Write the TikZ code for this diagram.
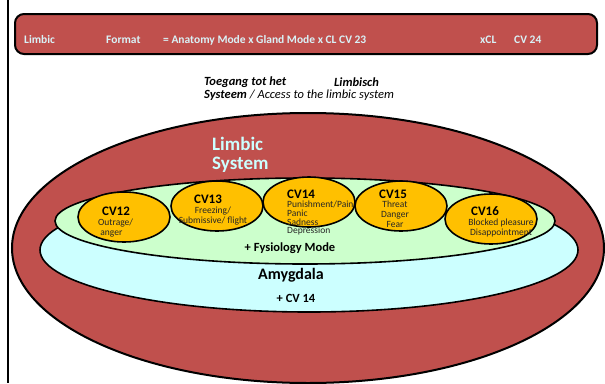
\documentclass[tikz,border=0pt]{standalone}
\usepackage{fontspec}
\setmainfont{Carlito}
\usetikzlibrary{shapes.geometric,positioning}
\definecolor{LimbRed}{HTML}{C0504D}
\definecolor{LimbGreen}{HTML}{CCFFCC}
\definecolor{LimbCyan}{HTML}{CCFFFF}
\definecolor{LimbGold}{HTML}{FFC000}
\definecolor{LimbText}{HTML}{D9F2F7}

\begin{document}
\begin{tikzpicture}[x=1pt, y=-1pt,
    cv/.style={ellipse, draw=black, line width=1.6pt, fill=LimbGold, minimum width=92pt, minimum height=50pt, inner sep=0pt},
    cvtitle/.style={font=\fontsize{13}{13}\selectfont\bfseries, inner sep=0pt},
    cvbody/.style={font=\fontsize{9.5}{10}\selectfont, inner sep=0pt, text=black!85},
    head/.style={font=\fontsize{11.5}{12}\selectfont\bfseries, text=LimbText, anchor=west, inner sep=0pt},
    sub/.style={font=\fontsize{12.5}{12}\selectfont, anchor=west, inner sep=0pt},
    zone/.style={font=\fontsize{12.5}{12}\selectfont\bfseries, inner sep=0pt}
]
    \useasboundingbox (0,0) rectangle (605,383);

    \draw[line width=1.5pt] (8,0) -- (8,383);

    % header bar
    \draw[line width=2pt, fill=LimbRed, rounded corners=9pt] (15,14) rectangle (597,54);
    \node[head] (hlimbic) at (24,40) {Limbic};
    \node[head] (hformat) at (106,40) {Format};
    \node[head] (hformula) at (163,40) {= Anatomy Mode x Gland Mode x CL CV 23};
    \node[head] (hxcl) at (480,40) {xCL};
    \node[head] (hcv) at (514,40) {CV 24};

    \node[sub] (toegang) at (204,82) {\bfseries\itshape Toegang tot het};
    \node[sub] (limbisch) at (334,82) {\bfseries\itshape Limbisch};
    \node[sub] (access) at (204,95) {\textbf{\textit{Systeem}} \textit{/ Access to the limbic system}};

    % nested regions
    \draw[line width=2pt, fill=LimbRed] (308,248) ellipse [x radius=296pt, y radius=135pt];
    \draw[line width=1.6pt, fill=LimbCyan] (309,250) ellipse [x radius=269pt, y radius=62pt];
    \draw[line width=1.6pt, fill=LimbGreen] (305,221) ellipse [x radius=250pt, y radius=43pt];

    \node[font=\fontsize{19}{19}\selectfont\bfseries, text=LimbCyan, align=left, anchor=north west, inner sep=0pt] (limbsys) at (212,137) {Limbic\\System};

    \node[cv] (cv12) at (124,217) {};
    \node[cv] (cv13) at (217,206) {};
    \node[cv] (cv14) at (309,202) {};
    \node[cv] (cv15) at (401,206) {};
    \node[cv] (cv16) at (491,219) {};

    \node[cvtitle] (t12) at (116,211) {CV12};
    \node[cvbody, align=left, anchor=north west] (b12) at (98,219) {Outrage/\\\ anger};
    \node[cvtitle] (t13) at (208,199) {CV13};
    \node[cvbody, align=center, anchor=north] (b13) at (213,207) {Freezing/\\Submissive/ flight};
    \node[cvtitle, anchor=west] (t14) at (287,194) {CV14};
    \node[cvbody, align=left, anchor=north west, font=\fontsize{9.5}{8.7}\selectfont] (b14) at (287,201) {Punishment/Pain\\Panic\\Sadness\\Depression};
    \node[cvtitle] (t15) at (393,194) {CV15};
    \node[cvbody, align=center, anchor=north] (b15) at (395,201) {Threat\\Danger\\Fear};
    \node[cvtitle] (t16) at (485,211) {CV16};
    \node[cvbody, align=center, anchor=north] (b16) at (501,219) {Blocked pleasure\\Disappointment};

    \node[zone] (fysio) at (290,248) {+ Fysiology Mode};
    \node[zone, font=\fontsize{16}{16}\selectfont\bfseries] (amyg) at (291,275) {Amygdala};
    \node[zone] (cvplus) at (296,298) {+ CV 14};
\end{tikzpicture}
\end{document}
